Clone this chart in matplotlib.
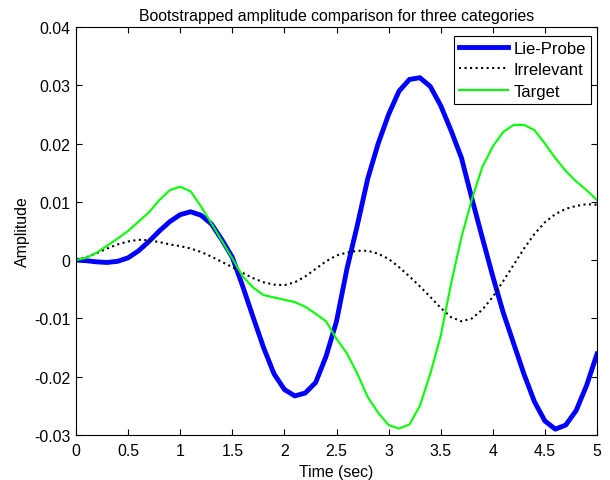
import numpy as np
import matplotlib
matplotlib.use("Agg")
from matplotlib import pyplot as plt

plt.rcParams['font.family'] = ['Liberation Sans', 'DejaVu Sans']

# time axis (sec)
time = np.round(np.arange(0, 5.01, 0.1), 1)

# Lie-Probe amplitude
lie_probe = [0.0000, -0.0001, -0.0003, -0.0004, -0.0002, 0.0004, 0.0016, 0.0032, 0.0050, 0.0066,
             0.0078, 0.0083, 0.0077, 0.0062, 0.0035, 0.0005, -0.0045, -0.0098, -0.0150, -0.0195,
             -0.0222, -0.0233, -0.0228, -0.0210, -0.0165, -0.0105, -0.0015, 0.0060, 0.0140, 0.0200,
             0.0250, 0.0290, 0.0310, 0.0313, 0.0298, 0.0265, 0.0222, 0.0175, 0.0105, 0.0038,
             -0.0028, -0.0090, -0.0143, -0.0196, -0.0243, -0.0276, -0.0290, -0.0283, -0.0258, -0.0215,
             -0.0161]

# Irrelevant amplitude
irrelevant = [0.0000, 0.0005, 0.0012, 0.0020, 0.0027, 0.0032, 0.0035, 0.0034, 0.0031, 0.0027,
              0.0024, 0.0020, 0.0014, 0.0006, -0.0003, -0.0012, -0.0022, -0.0031, -0.0038, -0.0042,
              -0.0043, -0.0038, -0.0028, -0.0015, -0.0002, 0.0008, 0.0013, 0.0016, 0.0016, 0.0011,
              0.0002, -0.0012, -0.0028, -0.0045, -0.0063, -0.0082, -0.0098, -0.0105, -0.0100, -0.0085,
              -0.0063, -0.0036, -0.0008, 0.0020, 0.0045, 0.0065, 0.0079, 0.0088, 0.0093, 0.0096,
              0.0095]

# Target amplitude
target = [0.0000, 0.0004, 0.0013, 0.0025, 0.0037, 0.0050, 0.0066, 0.0082, 0.0103, 0.0120,
          0.0126, 0.0118, 0.0092, 0.0063, 0.0033, 0.0003, -0.0028, -0.0047, -0.0060, -0.0064,
          -0.0068, -0.0072, -0.0080, -0.0092, -0.0105, -0.0135, -0.0160, -0.0195, -0.0235, -0.0262,
          -0.0283, -0.0289, -0.0282, -0.0250, -0.0195, -0.0130, -0.0040, 0.0040, 0.0105, 0.0160,
          0.0195, 0.0220, 0.0232, 0.0232, 0.0223, 0.0200, 0.0175, 0.0153, 0.0135, 0.0120,
          0.0103]

x_labels = ['0', '0.5', '1', '1.5', '2', '2.5', '3', '3.5', '4', '4.5', '5']
y_labels = ['-0.03', '-0.02', '-0.01', '0', '0.01', '0.02', '0.03', '0.04']

fs = 11.4

fig = plt.figure(figsize=(6.1, 4.81), dpi=100)
ax = fig.add_axes([0.1246, 0.0936, 0.8541, 0.8482])

ax.plot(time, lie_probe, color='#0000ff', linewidth=3.5, label='Lie-Probe')
ax.plot(time, irrelevant, color='black', linewidth=1.5, linestyle=':', label='Irrelevant')
ax.plot(time, target, color='#00ff00', linewidth=1.5, label='Target')

ax.set_xlim(0, 5)
ax.set_ylim(-0.03, 0.04)
ax.set_xticks(np.arange(0, 5.01, 0.5))
ax.set_xticklabels(x_labels)
ax.set_yticks(np.arange(-0.03, 0.041, 0.01))
ax.set_yticklabels(y_labels)
ax.tick_params(direction='in', top=True, right=True, length=4, labelsize=fs)
ax.tick_params(axis='x', pad=6)
ax.tick_params(axis='y', pad=4)
for s in ax.spines.values():
    s.set_linewidth(0.8)

ax.set_xlabel('Time (sec)', fontsize=fs, labelpad=4)
ax.set_ylabel('Amplitude', fontsize=fs, labelpad=3)
ax.set_title('Bootstrapped amplitude comparison for three categories', fontsize=fs, pad=5)

leg = ax.legend(loc='upper right', bbox_to_anchor=(0.9885, 0.978), borderaxespad=0,
                fontsize=12, fancybox=False, framealpha=1, edgecolor='black',
                handlelength=2.9, handletextpad=0.35, borderpad=0.3, labelspacing=0.38)
leg.get_frame().set_linewidth(0.8)

plt.savefig('out.png', dpi=100)
